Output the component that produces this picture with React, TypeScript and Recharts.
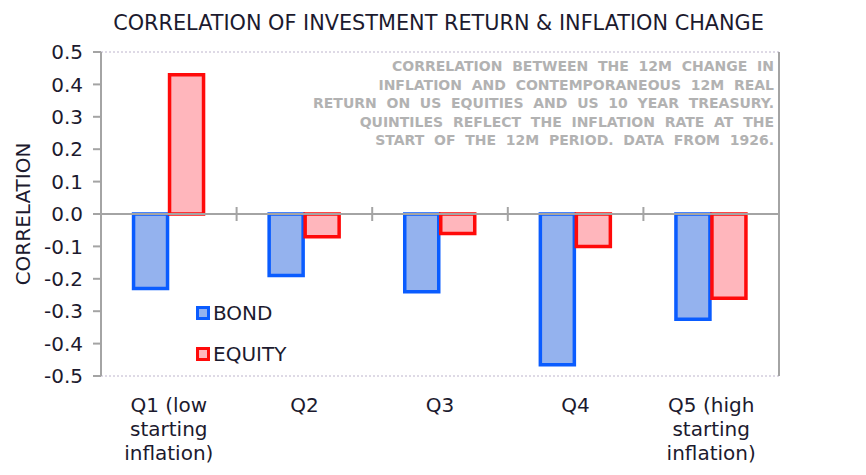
import React from "react";
import {
  BarChart,
  Bar,
  XAxis,
  YAxis,
  CartesianGrid,
  ReferenceLine,
} from "recharts";

const categories = [
  "Q1 (low\nstarting\ninflation)",
  "Q2",
  "Q3",
  "Q4",
  "Q5 (high\nstarting\ninflation)",
];
const bond = [-0.23, -0.19, -0.24, -0.465, -0.325];
const equity = [0.43, -0.07, -0.06, -0.1, -0.26];
const yTicks = [0.5, 0.4, 0.3, 0.2, 0.1, 0, -0.1, -0.2, -0.3, -0.4, -0.5];
const noteLines = [
  "CORRELATION  BETWEEN  THE  12M  CHANGE  IN",
  "INFLATION  AND  CONTEMPORANEOUS  12M  REAL",
  "RETURN  ON  US  EQUITIES  AND  US  10  YEAR  TREASURY.",
  "QUINTILES  REFLECT  THE  INFLATION  RATE  AT  THE",
  "START  OF  THE  12M  PERIOD.  DATA  FROM  1926.",
];

const FONT = "'DejaVu Sans', Verdana, sans-serif";
const INK = "#1c1a2e";
const AXIS = "#a4a4a4";

const BOND_FILL = "#94b2ee";
const BOND_LINE = "#0a5cff";
const EQ_FILL = "#ffb6bc";
const EQ_LINE = "#ff0a0a";

const data = categories.map((c, i) => ({ label: c, bond: bond[i], equity: equity[i] }));

// zero line with small tick marks between the quintiles
function ZeroLine(props: any) {
  const { x1, x2, y1 } = props;
  const n = categories.length;
  const step = (x2 - x1) / n;
  const marks = [];
  for (let i = 1; i < n; i++) {
    const x = x1 + step * i;
    marks.push(<line key={i} x1={x} x2={x} y1={y1 - 7} y2={y1 + 7} stroke={AXIS} strokeWidth={2} />);
  }
  return (
    <g>
      <line x1={x1} x2={x2} y1={y1} y2={y1} stroke={AXIS} strokeWidth={2} />
      {marks}
    </g>
  );
}

function CategoryTick({ x, y, payload }: any) {
  const lines = String(payload.value).split("\n");
  return (
    <text x={x} y={y} textAnchor="middle" fill={INK} fontSize={20} fontFamily={FONT}>
      {lines.map((l, i) => (
        <tspan key={i} x={x} dy={i === 0 ? 28 : 24}>
          {l}
        </tspan>
      ))}
    </text>
  );
}

function LegendBox() {
  const items = [
    { name: "BOND", fill: BOND_FILL, line: BOND_LINE },
    { name: "EQUITY", fill: EQ_FILL, line: EQ_LINE },
  ];
  return (
    <div
      style={{ position: "absolute", left: 196, top: 292, fontFamily: FONT, fontSize: 20, color: INK }}
    >
      {items.map((it) => (
        <div key={it.name} style={{ display: "flex", alignItems: "center", height: 41 }}>
          <span
            style={{
              display: "inline-block",
              width: 8,
              height: 8,
              background: it.fill,
              border: `3px solid ${it.line}`,
              marginRight: 3,
            }}
          />
          {it.name}
        </div>
      ))}
    </div>
  );
}

export default function App() {
  const tickStyle = { fill: INK, fontSize: 20, fontFamily: FONT };
  return (
    <div style={{ position: "absolute", left: 0, top: 0, width: 866, height: 475, background: "#fff" }}>
      <div
        style={{
          position: "absolute",
          left: 0,
          width: 877,
          top: 11,
          textAlign: "center",
          fontFamily: FONT,
          fontSize: 20.8,
          color: INK,
          whiteSpace: "nowrap",
        }}
      >
        CORRELATION OF INVESTMENT RETURN &amp; INFLATION CHANGE
      </div>
      <BarChart
        width={866}
        height={475}
        data={data}
        margin={{ top: 52, right: 27, bottom: 14, left: 11 }}
        barCategoryGap="24%"
        barGap={2}
      >
        <CartesianGrid horizontal vertical={false} stroke="#bdb4cc" strokeDasharray="2 2" />
        <XAxis
          dataKey="label"
          axisLine={false}
          tickLine={false}
          interval={0}
          height={85}
          tick={<CategoryTick />}
        />
        <YAxis
          yAxisId="left"
          domain={[-0.5, 0.5]}
          ticks={yTicks}
          interval={0}
          width={90}
          tick={tickStyle}
          tickFormatter={(v: number) => v.toFixed(1)}
          axisLine={{ stroke: AXIS, strokeWidth: 2 }}
          tickLine={{ stroke: AXIS, strokeWidth: 2 }}
          tickSize={8}
          tickMargin={10}
          label={{
            value: "CORRELATION",
            angle: -90,
            position: "insideLeft",
            offset: 12,
            style: { textAnchor: "middle", fill: INK, fontSize: 20, fontFamily: FONT },
          }}
        />
        <YAxis
          yAxisId="right"
          orientation="right"
          domain={[-0.5, 0.5]}
          ticks={yTicks}
          interval={0}
          width={60}
          tick={tickStyle}
          tickFormatter={(v: number) => v.toFixed(1)}
          axisLine={{ stroke: AXIS, strokeWidth: 2 }}
          tickLine={{ stroke: AXIS, strokeWidth: 2 }}
          tickSize={8}
          tickMargin={13}
        />
        <Bar
          yAxisId="left"
          dataKey="bond"
          name="BOND"
          fill={BOND_FILL}
          stroke={BOND_LINE}
          strokeWidth={3.5}
          isAnimationActive={false}
        />
        <Bar
          yAxisId="left"
          dataKey="equity"
          name="EQUITY"
          fill={EQ_FILL}
          stroke={EQ_LINE}
          strokeWidth={3.5}
          isAnimationActive={false}
        />
        <ReferenceLine yAxisId="left" y={0} shape={<ZeroLine />} />
      </BarChart>
      <LegendBox />
      <div
        style={{
          position: "absolute",
          right: 92,
          top: 57,
          textAlign: "right",
          fontFamily: FONT,
          fontWeight: "bold",
          fontSize: 14,
          color: "#b2b2b2",
          lineHeight: "18.5px",
        }}
      >
        {noteLines.map((l, i) => (
          <div key={i}>
            <span style={{ background: "#fff", whiteSpace: "pre", padding: "1px 0 3px" }}>{l}</span>
          </div>
        ))}
      </div>
    </div>
  );
}
